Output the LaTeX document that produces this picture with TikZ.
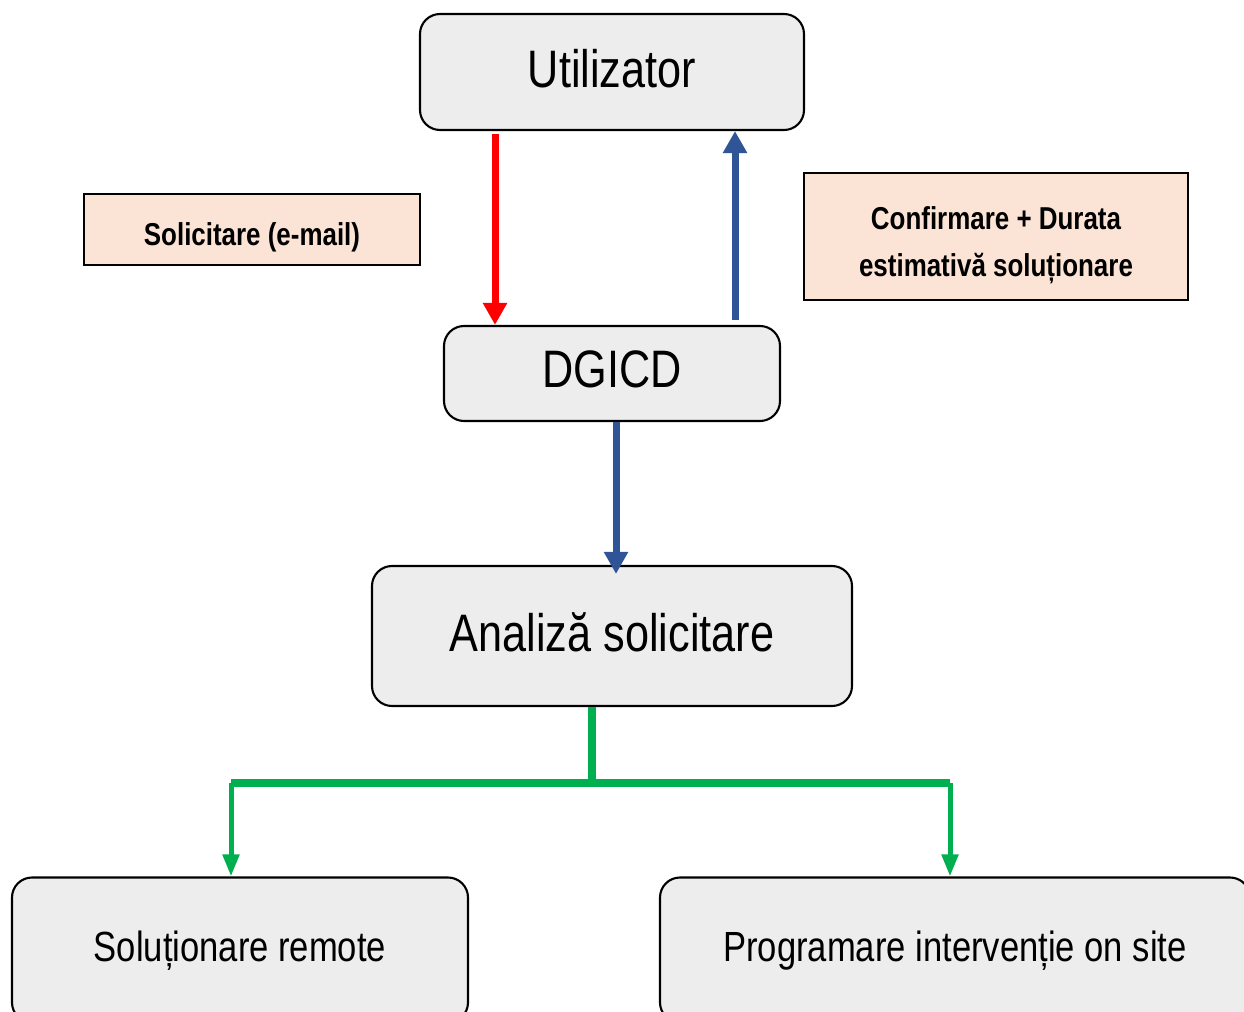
\documentclass[tikz,border=0pt]{standalone}
\usepackage{fontspec}
\setmainfont{Liberation Sans}[FakeStretch=0.82]
\usetikzlibrary{arrows.meta,shapes}
\definecolor{boxgray}{HTML}{EDEDED}
\definecolor{notefill}{HTML}{FBE4D5}
\definecolor{flowblue}{HTML}{2F5597}
\definecolor{flowgreen}{HTML}{00B050}
\newcommand{\notestrut}{\rule{0pt}{\dimexpr0.75em+0.18cm\relax}}
\begin{document}
\begin{tikzpicture}[>={Triangle[width=0.46cm,length=0.44cm]},line join=miter]
  \tikzstyle{actor}=[rectangle,rounded corners=0.4cm,
                                    line width=1.2pt,
                                    draw=black,
                                    fill=boxgray,
                                    text depth=0.16cm,
                                    font=\fontsize{30}{34}\selectfont]
  \tikzstyle{outcome}=[actor,
                                    font=\fontsize{24}{28}\selectfont]
  \tikzstyle{note}=[rectangle,
                                    line width=1.2pt,
                                    draw=black,
                                    fill=notefill,
                                    align=center,
                                    text depth=0pt,
                                    font=\fontsize{18}{27}\selectfont\bfseries]
  \tikzstyle{redflow}=[->,draw=red,line width=0.14cm]
  \tikzstyle{blueflow}=[->,draw=flowblue,line width=0.14cm]
  \tikzstyle{greenflow}=[draw=flowgreen,line width=0.15cm]
  \tikzstyle{greendrop}=[draw=flowgreen,line width=0.1cm,
                                    -{Triangle[width=0.32cm,length=0.44cm]}]
  \useasboundingbox (0,0) rectangle (24.88,-20.24);
  %Nodos cajas
  \node[actor,minimum width=7.68cm,minimum height=2.32cm] (utl) at (12.24,-1.44) {Utilizator};
  \node[actor,minimum width=6.72cm,minimum height=1.9cm] (dg) at (12.24,-7.47) {DGICD};
  \node[actor,minimum width=9.6cm,minimum height=2.8cm] (an) at (12.24,-12.72) {Analiză solicitare};
  \node[outcome,minimum width=9.12cm,minimum height=2.9cm] (rem) at (4.8,-19.0) {Soluționare remote};
  \node[outcome,minimum width=11.8cm,minimum height=2.9cm] (prog) at (19.1,-19.0) {Programare intervenție on site};
  %Nodos notas
  \node[note,minimum width=6.72cm,minimum height=1.42cm] (req) at (5.04,-4.59) {\notestrut Solicitare (e-mail)};
  \node[note,minimum width=7.68cm,minimum height=2.54cm] (conf) at (19.92,-4.73) {\notestrut Confirmare + Durata\\estimativă soluționare};
  %Flechas
  \draw[redflow] ([xshift=-2.34cm,yshift=-0.06cm]utl.south) -- ([xshift=-2.34cm]dg.north);
  \draw[blueflow] ([xshift=2.46cm,yshift=0.1cm]dg.north) -- ([xshift=2.46cm]utl.south);
  \draw[blueflow] ([xshift=0.08cm]dg.south) -- ([xshift=0.08cm,yshift=-0.18cm]an.north);
  \draw[greenflow] ([xshift=-0.4cm]an.south) -- ++(0,-1.52) coordinate (fork);
  \coordinate (ltip) at ([xshift=-0.18cm]rem.north);
  \coordinate (rtip) at ([xshift=-0.1cm]prog.north);
  \draw[greenflow] (fork -| ltip) -- (fork -| rtip);
  \draw[greendrop] (fork -| ltip) -- (ltip);
  \draw[greendrop] (fork -| rtip) -- (rtip);
\end{tikzpicture}
\end{document}
